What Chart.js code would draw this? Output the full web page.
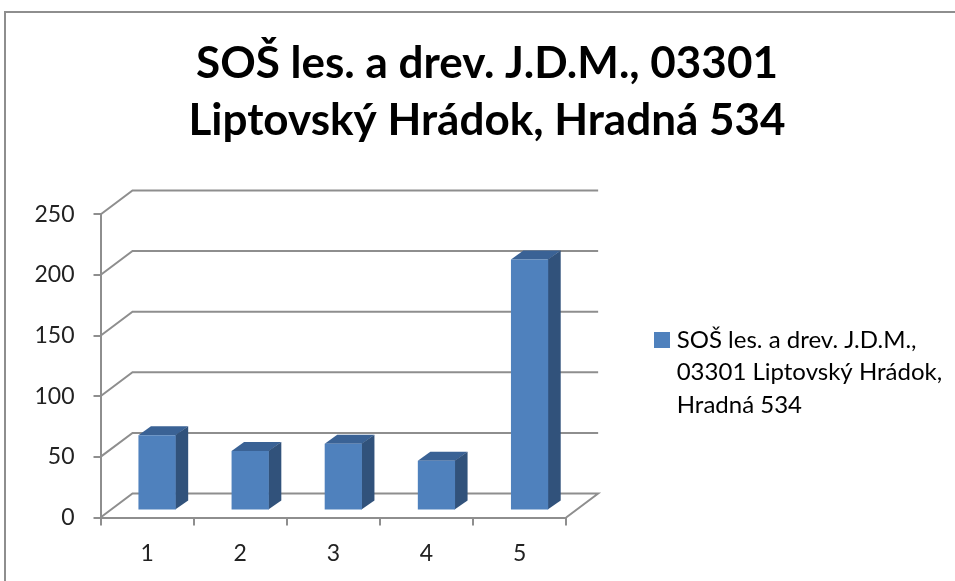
<!DOCTYPE html>
<html>
<head>
<meta charset="utf-8">
<title>SOŠ les. a drev. J.D.M.</title>
<script src="https://cdn.jsdelivr.net/npm/chart.js@4"></script>
<style>
	html, body { margin: 0; padding: 0; background: #fff; overflow: hidden; }
	#wrap { position: relative; width: 955px; height: 581px; }
	#frame { position: absolute; left: 4px; top: 11px; right: -4px; bottom: -4px; border: 2px solid #8e8e8e; }
	canvas { position: absolute; left: 0; top: 0; }
</style>
</head>
<body>
<div id="wrap">
	<div id="frame"></div>
	<canvas id="chart" width="955" height="581"></canvas>
</div>
<script>
const categories = ['1', '2', '3', '4', '5'];
const seriesValues = [62, 49, 55, 41, 207];
const seriesName = 'SOŠ les. a drev. J.D.M., 03301 Liptovský Hrádok, Hradná 534';
const legendLines = ['SOŠ les. a drev. J.D.M.,', '03301 Liptovský Hrádok,', 'Hradná 534'];
const titleLines = ['SOŠ les. a drev. J.D.M., 03301', 'Liptovský Hrádok, Hradná 534'];

const barColor = '#4f81bd';
const gridColor = '#8e8e8e';
const wallDepth = { x: 32, y: -24 };
const barShift = { x: 10, y: -7 };
const barDepth = { x: 12.5, y: -9 };
const legendPadding = 121.6;
const legendBoxX = 659.3;
const legendTextTop = 328;

// legend text sits a fixed font-size/2 after the box, so the swatch is an image on a narrow box
const swatch = document.createElement('canvas');
swatch.width = 16;
swatch.height = 16;
const swatchCtx = swatch.getContext('2d');
swatchCtx.fillStyle = barColor;
swatchCtx.fillRect(0, 0, 16, 16);

const face = (ctx, points, color) => {
	ctx.fillStyle = color;
	ctx.beginPath();
	points.forEach(([x, y], i) => (i ? ctx.lineTo(x, y) : ctx.moveTo(x, y)));
	ctx.closePath();
	ctx.fill();
};

// the 3d look: slanted gridlines behind the bars, bars pushed onto the floor
const perspective = {
	id: 'perspective',
	afterLayout(chart) {
		// multi-line legend items get a wrong height from the library, place the box by hand
		chart.legend.left = legendBoxX - legendPadding;
		chart.legend.right = chart.width;
		chart.legend.top = legendTextTop - legendPadding;
		chart.legend.bottom = chart.height;
	},
	beforeDatasetsDraw(chart) {
		const { ctx, chartArea, scales } = chart;
		ctx.save();
		ctx.strokeStyle = gridColor;
		ctx.lineWidth = 2;
		scales.y.ticks.forEach((tick) => {
			const y = scales.y.getPixelForValue(tick.value);
			ctx.beginPath();
			ctx.moveTo(chartArea.left, y);
			ctx.lineTo(chartArea.left + wallDepth.x, y + wallDepth.y);
			ctx.lineTo(chartArea.right + wallDepth.x, y + wallDepth.y);
			if (tick.value === 0) {
				ctx.lineTo(chartArea.right, y);
			}
			ctx.stroke();
		});
		ctx.restore();

		ctx.save();
		ctx.translate(barShift.x, barShift.y);
		chart.getDatasetMeta(0).data.forEach((bar) => {
			const left = bar.x - bar.width / 2;
			const right = bar.x + bar.width / 2;
			const dx = barDepth.x;
			const dy = barDepth.y;
			face(ctx, [[left, bar.y], [right, bar.y], [right + dx, bar.y + dy], [left + dx, bar.y + dy]], '#3a6295');
			face(ctx, [[right - 0.5, bar.y], [right + dx, bar.y + dy], [right + dx, bar.base + dy], [right - 0.5, bar.base]], '#31527b');
		});
	},
	afterDatasetsDraw(chart) {
		chart.ctx.restore();
	},
};

new Chart(document.getElementById('chart'), {
	type: 'bar',
	data: {
		labels: categories,
		datasets: [{
			label: seriesName,
			data: seriesValues,
			backgroundColor: barColor,
			categoryPercentage: 1,
			barPercentage: 0.4,
		}],
	},
	options: {
		responsive: false,
		animation: false,
		layout: { padding: { left: 19, right: 0, top: 0, bottom: 13.5 } },
		plugins: {
			tooltip: { enabled: false },
			title: {
				display: true,
				text: titleLines,
				color: '#000',
				font: { family: 'Lato', size: 44, weight: 'bold', lineHeight: 1.295 },
				padding: { top: 35.5, bottom: 65 },
			},
			legend: {
				position: 'right',
				align: 'start',
				maxWidth: 400,
				labels: {
					usePointStyle: true,
					pointStyleWidth: 5.4,
					padding: legendPadding,
					color: '#222',
					font: { family: 'Lato', size: 24, lineHeight: 1.354 },
					generateLabels: () => [{
						text: legendLines,
						pointStyle: swatch,
						fillStyle: barColor,
						lineWidth: 0,
						datasetIndex: 0,
					}],
				},
			},
		},
		scales: {
			x: {
				afterFit: (scale) => { scale.height = 50; },
				border: { color: gridColor, width: 2 },
				grid: { color: gridColor, lineWidth: 2, drawOnChartArea: false, tickLength: 8 },
				ticks: { color: '#222', padding: 14, font: { family: 'Lato', size: 23 } },
			},
			y: {
				min: 0,
				max: 250,
				afterFit: (scale) => { scale.width = 81.5; },
				border: { color: gridColor, width: 2 },
				grid: { color: gridColor, lineWidth: 2, drawOnChartArea: false, tickLength: 7 },
				ticks: { stepSize: 50, color: '#222', padding: 19, font: { family: 'Lato', size: 23 } },
			},
		},
	},
	plugins: [perspective],
});
</script>
</body>
</html>
